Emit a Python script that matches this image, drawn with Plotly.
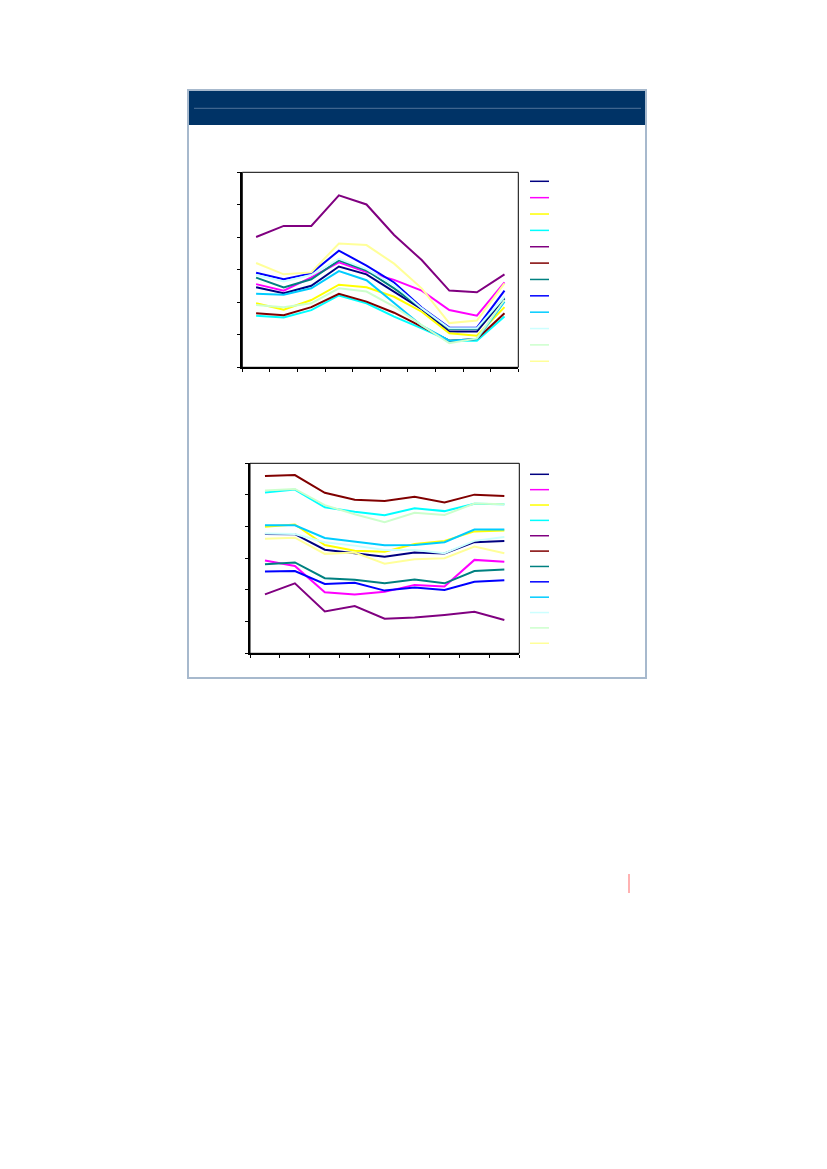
import plotly.graph_objects as go

# ---------------- data ----------------
periods_top = [1, 2, 3, 4, 5, 6, 7, 8, 9, 10]
periods_bottom = [1, 2, 3, 4, 5, 6, 7, 8, 9]

series_colors = ["#000080", "#FF00FF", "#FFFF00", "#00FFFF", "#800080", "#800000",
                 "#008080", "#0000FF", "#00CCFF", "#CCFFFF", "#CCFFCC", "#FFFF99"]

top_navy = [24.6, 22.8, 25.1, 31.0, 28.6, 23.3, 17.9, 11.0, 11.0, 21.2]
top_magenta = [25.6, 23.6, 27.7, 32.3, 29.3, 26.9, 23.6, 17.6, 15.9, 26.1]
top_yellow = [19.7, 17.7, 20.7, 25.4, 24.6, 21.7, 17.1, 10.5, 9.7, 18.5]
top_cyan = [15.9, 15.3, 17.6, 22.1, 19.7, 15.6, 12.0, 8.2, 8.2, 15.6]
top_purple = [40.1, 43.5, 43.5, 52.9, 50.1, 40.7, 33.0, 23.6, 23.1, 28.6]
top_maroon = [16.6, 16.0, 18.5, 22.6, 20.2, 16.8, 12.5, 8.2, 8.7, 16.6]
top_teal = [27.6, 24.6, 27.1, 32.9, 29.8, 24.3, 18.2, 11.8, 11.8, 21.5]
top_blue = [29.1, 27.1, 28.9, 35.9, 31.3, 26.1, 18.4, 12.2, 12.2, 23.6]
top_sky = [22.6, 22.3, 24.3, 29.6, 26.8, 19.7, 12.8, 8.2, 8.7, 20.2]
top_lightcyan = [28.4, 26.4, 28.4, 33.4, 30.2, 25.3, 18.2, 12.0, 12.0, 21.7]
top_lightgreen = [19.2, 18.5, 19.7, 24.3, 23.3, 18.7, 13.0, 7.4, 8.9, 20.7]
top_lightyellow = [32.1, 28.6, 29.2, 38.1, 37.6, 31.9, 24.3, 13.6, 14.4, 25.8]

bot_navy = [37.7, 37.6, 32.7, 31.6, 30.5, 31.8, 31.5, 35.1, 35.5]
bot_magenta = [29.3, 27.6, 19.3, 18.6, 19.4, 21.6, 21.1, 29.5, 28.9]
bot_yellow = [40.0, 40.7, 34.2, 32.4, 32.1, 34.5, 35.5, 38.5, 38.8]
bot_cyan = [50.8, 51.7, 46.1, 44.7, 43.6, 45.8, 44.9, 47.2, 47.1]
bot_purple = [18.6, 22.1, 13.2, 14.9, 10.9, 11.3, 12.1, 13.1, 10.5]
bot_maroon = [56.0, 56.3, 50.7, 48.5, 48.1, 49.4, 47.6, 50.1, 49.7]
bot_teal = [28.1, 28.7, 23.7, 23.2, 22.1, 23.3, 22.1, 26.0, 26.5]
bot_blue = [25.8, 26.0, 21.9, 22.3, 19.8, 20.8, 20.0, 22.6, 23.1]
bot_sky = [40.4, 40.4, 36.4, 35.3, 34.1, 34.2, 35.1, 39.1, 39.1]
bot_lightcyan = [37.8, 37.7, 35.1, 34.0, 32.6, 32.6, 31.6, 35.5, 36.7]
bot_lightgreen = [51.4, 51.9, 46.8, 43.9, 41.4, 44.4, 43.7, 47.3, 47.1]
bot_lightyellow = [36.2, 36.5, 31.4, 31.8, 28.3, 29.7, 30.0, 33.7, 31.6]

top_series = [top_navy, top_magenta, top_yellow, top_cyan, top_purple, top_maroon,
              top_teal, top_blue, top_sky, top_lightcyan, top_lightgreen, top_lightyellow]
bot_series = [bot_navy, bot_magenta, bot_yellow, bot_cyan, bot_purple, bot_maroon,
              bot_teal, bot_blue, bot_sky, bot_lightcyan, bot_lightgreen, bot_lightyellow]

# ---------------- layout helpers ----------------
# the page body has an 8px margin, so the figure starts at (8, 8)
OFF = 8
W, H = 827 - 2 * OFF, 1169 - 2 * OFF


def px(x):
    return (x - OFF) / W


def py(y):
    return 1 - (y - OFF) / H


fig = go.Figure()

for vals, col in zip(top_series, series_colors):
    fig.add_trace(go.Scatter(x=periods_top, y=vals, mode="lines", xaxis="x", yaxis="y",
                             line=dict(color=col, width=2), showlegend=False,
                             hoverinfo="skip"))
for vals, col in zip(bot_series, series_colors):
    fig.add_trace(go.Scatter(x=periods_bottom, y=vals, mode="lines", xaxis="x2", yaxis="y2",
                             line=dict(color=col, width=2), showlegend=False,
                             hoverinfo="skip"))

shapes = []
# outer panel
shapes.append(dict(type="rect", xref="paper", yref="paper", x0=px(188), x1=px(646),
                   y0=py(678), y1=py(90), line=dict(color="#A7B9CD", width=2),
                   fillcolor="white", layer="below"))
# header band
shapes.append(dict(type="rect", xref="paper", yref="paper", x0=px(189), x1=px(645),
                   y0=py(125), y1=py(91), line=dict(width=0), fillcolor="#003366",
                   layer="below"))
shapes.append(dict(type="line", xref="paper", yref="paper", x0=px(194), x1=px(641),
                   y0=py(108.3), y1=py(108.3), line=dict(color="#4F7299", width=1)))
# red marker line
shapes.append(dict(type="line", xref="paper", yref="paper", x0=px(629), x1=px(629),
                   y0=py(874), y1=py(893), line=dict(color="#FF9999", width=1.5)))

# plot boxes (thin top/right)
for xa, ya in (("x", "y"), ("x2", "y2")):
    shapes.append(dict(type="rect", xref=xa + " domain", yref=ya + " domain",
                       x0=0, x1=1, y0=0, y1=1, line=dict(color="black", width=1)))

# legend swatches (no labels in the reference)
for top0, pitch in ((181.3, 16.36), (474.3, 15.36)):
    for i, col in enumerate(series_colors):
        yy = py(top0 + i * pitch)
        shapes.append(dict(type="line", xref="paper", yref="paper", x0=px(530), x1=px(549),
                           y0=yy, y1=yy, line=dict(color=col, width=1.5)))

axis_common = dict(showgrid=False, zeroline=False, showticklabels=False, ticks="outside",
                   ticklen=3, tickcolor="black", showline=True, linecolor="black",
                   linewidth=2)

fig.update_layout(
    width=W, height=H, margin=dict(l=0, r=0, t=0, b=0),
    paper_bgcolor="white", plot_bgcolor="white",
    xaxis=dict(domain=[px(242.3), px(518.3)], range=[0.5, 10.5], anchor="y",
               tickmode="array", tickvals=[p - 0.5 for p in periods_top] + [10.5],
               **axis_common),
    yaxis=dict(domain=[py(367.3), py(172.3)], range=[0, 60], dtick=10, anchor="x",
               **axis_common),
    xaxis2=dict(domain=[px(250), px(519.3)], range=[0.5, 9.5], anchor="y2",
                tickmode="array", tickvals=[p - 0.5 for p in periods_bottom] + [9.5],
                **axis_common),
    yaxis2=dict(domain=[py(653.3), py(463.3)], range=[0, 60], dtick=10, anchor="x2",
                **axis_common),
    shapes=shapes,
    showlegend=False,
)

fig.write_html("out.html")
